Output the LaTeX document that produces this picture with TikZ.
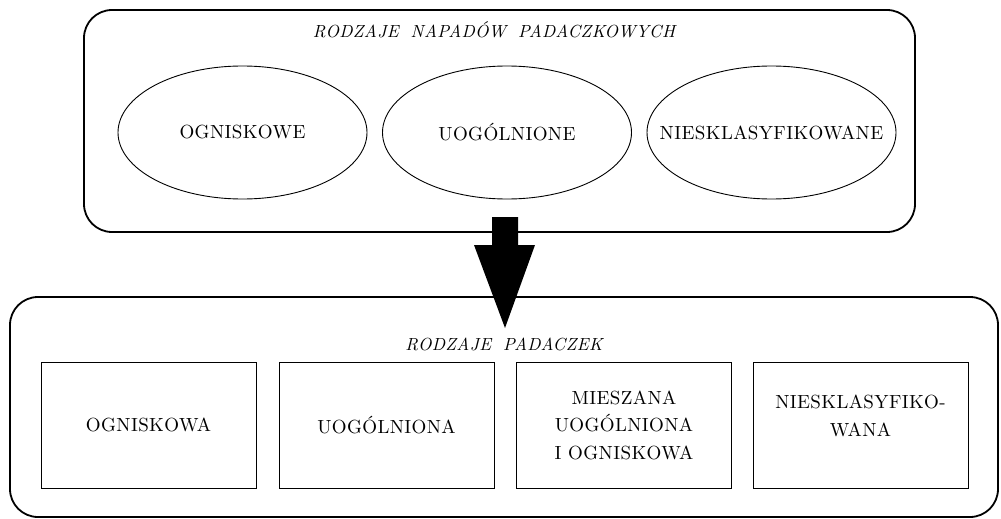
\documentclass[tikz,border=0pt]{standalone}
\usepackage{fontspec}
\setmainfont{lmroman10}[Extension=.otf, UprightFont=*-regular, ItalicFont=*-italic, BoldFont=*-bold]
\usetikzlibrary{shapes.geometric,calc}
\newcommand\lsp{\addfontfeatures{LetterSpace=2}}
\tikzset{
  bigbox/.style={draw, line width=1.8pt, rounded corners=28pt, inner sep=0pt},
  ell/.style={draw, ellipse, line width=0.9pt, minimum width=249pt, minimum height=133pt, inner sep=0pt},
  etext/.style={inner sep=0pt, font=\fontsize{19}{23}\selectfont\lsp},
  rbox/.style={draw, rectangle, line width=1pt, minimum width=215pt, minimum height=126pt, inner sep=0pt},
  rtext/.style={align=center, inner sep=0pt, font=\fontsize{19}{27.5}\selectfont\lsp},
  ttl/.style={anchor=base, inner sep=0pt, font=\fontsize{17.5}{22}\selectfont\itshape\lsp},
}
\begin{document}
\begin{tikzpicture}[x=1pt, y=-1pt]
\useasboundingbox (0,0) rectangle (1001,519);
\fill[white] (0,0) rectangle (1001,519);
% outer boxes
\node[bigbox, minimum width=831pt, minimum height=222pt] (top) at (499.5,121) {};
\node[bigbox, minimum width=988pt, minimum height=220pt] (bot) at (504,407) {};
% titles
\node[ttl] (ttop) at (494,38) {RODZAJE\hspace{12pt}NAPADÓW\hspace{12pt}PADACZKOWYCH};
\node[ttl] (tbot) at (504,350) {RODZAJE\hspace{12pt}PADACZEK};
% ellipses
\node[ell] (e1) at (242.5,132.5) {};
\node[ell] (e2) at (507,132.5) {};
\node[ell] (e3) at (771.5,132.5) {};
\node[etext] (et1) at (e1) {OGNISKOWE};
\node[etext] (et2) at (e2) {UOGÓLNIONE};
\node[etext] (et3) at (e3) {NIESKLASYFIKOWANE};
% rectangles
\node[rbox] (r1) at (148.5,425) {};
\node[rbox] (r2) at (386.5,425) {};
\node[rbox] (r3) at (624,425) {};
\node[rbox] (r4) at (860.5,425) {};
\node[rtext] (t1) at (r1) {OGNISKOWA};
\node[rtext] (t2) at (r2) {UOGÓLNIONA};
\node[rtext] (t3) at (r3) {MIESZANA\\UOGÓLNIONA\\I OGNISKOWA};
\node[rtext] (t4) at (860.5,416) {NIESKLASYFIKO-\\WANA};
% block arrow
\coordinate (as) at (505,217);
\coordinate (at) at (505,328);
\fill[black] ($(as)+(-13,0)$) -- ($(as)+(13,0)$) -- ($(as)+(13,28)$) -- ($(as)+(30,28)$)
  -- (at) -- ($(as)+(-31,28)$) -- ($(as)+(-13,28)$) -- cycle;
\end{tikzpicture}
\end{document}
